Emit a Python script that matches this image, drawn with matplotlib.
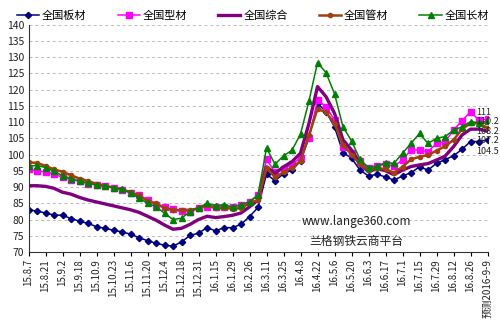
import numpy as np
import matplotlib
matplotlib.use('Agg')
import matplotlib.pyplot as plt

plt.rcParams['font.family'] = ['Noto Sans CJK SC', 'DejaVu Sans']

# weekly price index, 15.8.7 .. 2016-9-9 (last week is the forecast)
dates = ['15.8.7', '15.8.21', '15.9.2', '15.9.18', '15.10.9', '15.10.23',
         '15.11.6', '15.11.20', '15.12.4', '15.12.18', '15.12.31', '16.1.15',
         '16.1.29', '16.2.26', '16.3.11', '16.3.25', '16.4.8', '16.4.22',
         '16.5.6', '16.5.20', '16.6.3', '16.6.17', '16.7.1', '16.7.15',
         '16.7.29', '16.8.12', '16.8.26', '预测2016-9-9']

plate = [83.0, 82.6, 82.0, 81.4, 81.3, 80.3, 79.5, 78.8, 77.8, 77.3,
         76.7, 76.2, 75.5, 74.4, 73.5, 72.7, 72.1, 71.8, 73.1, 75.1,
         75.8, 77.5, 76.5, 77.5, 77.5, 78.5, 80.9, 83.7, 94.0, 91.9,
         94.1, 95.2, 98.0, 105.2, 115.7, 113.2, 108.5, 100.6, 98.9, 95.2,
         93.4, 93.9, 93.1, 92.1, 93.4, 94.4, 96.2, 95.2, 97.3, 98.4,
         99.6, 101.6, 104.0, 104.0, 104.5]
section = [95.4, 95.0, 94.7, 94.0, 93.0, 92.3, 91.8, 91.0, 90.7, 90.3,
           89.8, 89.1, 88.3, 87.5, 86.0, 84.6, 84.0, 83.1, 82.5, 82.4,
           83.5, 84.0, 83.9, 83.8, 83.9, 84.5, 85.5, 87.5, 98.5, 94.5,
           95.5, 97.0, 99.0, 105.0, 116.7, 114.7, 110.6, 102.4, 100.5, 98.0,
           96.0, 96.5, 97.0, 96.5, 98.3, 101.4, 101.4, 100.9, 103.4, 103.9,
           107.5, 110.4, 113.2, 110.5, 111.0]
overall = [90.4, 90.4, 90.2, 89.6, 88.4, 87.8, 86.8, 86.0, 85.4, 84.8,
           84.2, 83.6, 83.0, 82.2, 81.0, 79.8, 78.3, 77.0, 77.3, 78.5,
           80.0, 81.0, 80.6, 80.9, 81.3, 82.0, 83.9, 86.0, 96.2, 94.2,
           96.2, 97.8, 100.4, 109.6, 120.9, 117.8, 112.7, 104.5, 101.4, 97.3,
           94.7, 95.8, 95.0, 93.8, 95.2, 96.3, 96.8, 97.2, 98.3, 99.5,
           102.4, 106.0, 107.8, 107.8, 107.2]
pipe = [97.6, 97.4, 96.5, 95.4, 94.7, 93.6, 92.6, 91.8, 91.0, 90.4,
        89.8, 89.3, 88.4, 87.4, 85.7, 85.0, 83.5, 82.9, 82.9, 83.0,
        83.4, 84.5, 83.4, 83.6, 83.3, 83.5, 85.0, 86.0, 96.0, 93.0,
        94.5, 96.0, 98.0, 106.0, 114.0, 113.0, 109.5, 103.0, 100.0, 97.0,
        95.2, 95.8, 95.5, 94.4, 96.2, 98.5, 99.3, 99.8, 101.2, 102.5,
        104.5, 107.8, 109.6, 109.6, 108.2]
long_ = [96.5, 96.6, 96.0, 94.8, 93.5, 92.6, 91.8, 91.2, 90.6, 90.3,
         89.8, 89.3, 88.2, 86.6, 85.0, 84.0, 81.9, 80.0, 80.4, 82.4,
         83.6, 85.0, 84.2, 84.5, 83.9, 84.5, 85.5, 87.5, 102.0, 97.0,
         99.6, 101.3, 106.3, 116.5, 128.3, 125.2, 118.7, 108.5, 104.2, 98.5,
         96.0, 96.4, 97.5, 97.3, 100.4, 103.4, 106.5, 103.4, 105.0, 105.5,
         107.5, 108.5, 110.1, 109.8, 110.2]

x = np.arange(len(plate))

fig = plt.figure(figsize=(5.0, 3.29), dpi=100)
ax = fig.add_axes([0.057, 0.234, 0.918, 0.6915])

ax.plot(x, plate, color='#000080', lw=1.1, marker='D', ms=3.2, label='全国板材')
ax.plot(x, section, color='#FF00FF', lw=1.1, marker='s', ms=4, label='全国型材')
ax.plot(x, overall, color='#800080', lw=2.4, label='全国综合')
ax.plot(x, pipe, color='#A0410D', lw=1.8, marker='o', ms=3, label='全国管材')
ax.plot(x, long_, color='#008000', lw=1.1, marker='^', ms=4, label='全国长材')

# labels on the forecast week
last = len(x) - 1
for val, dy in [(section[-1], 4.4), (long_[-1], 0), (pipe[-1], -2.8),
                (overall[-1], -7), (plate[-1], -8.5)]:
    ax.annotate('%g' % val, (last, val), xytext=(-8, dy),
                textcoords='offset points', fontsize=6.5, color='#222222',
                va='center', ha='left', annotation_clip=False)

ax.set_xlim(0, last)
ax.set_ylim(70, 140)
ax.set_yticks(np.arange(70, 141, 5))
ax.set_xticks(x[::2])
ax.set_xticklabels(dates, rotation=90, fontsize=7, color='#222222')
ax.tick_params(axis='y', length=0, labelsize=7.5, pad=3, labelcolor='#222222')
ax.tick_params(axis='x', length=3, direction='out', pad=2)
ax.grid(axis='y', color='#BBBBBB', ls=(0, (3, 3)), lw=0.7)
for s in ['top', 'right']:
    ax.spines[s].set_visible(False)
for s in ['left', 'bottom']:
    ax.spines[s].set_color('#333333')
    ax.spines[s].set_linewidth(0.8)

fig.legend(loc='upper center', bbox_to_anchor=(0.506, 1.0), ncol=5,
           frameon=False, fontsize=8, handlelength=2.0, handletextpad=0.25,
           columnspacing=2.8)

fig.text(0.604, 0.326, 'www.lange360.com', fontsize=8.5, color='#222222',
         va='center')
fig.text(0.618, 0.265, '兰格钢铁云商平台', fontsize=8.5, color='#222222',
         va='center')

fig.savefig('out.png', dpi=100)
